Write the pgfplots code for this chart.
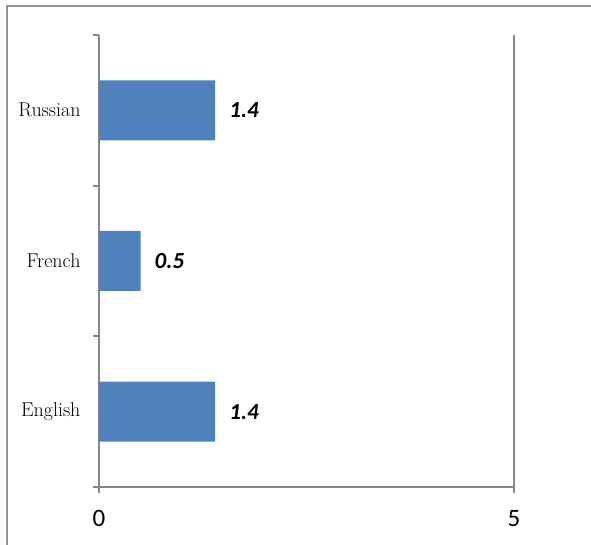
\documentclass[border=0pt]{standalone}
\usepackage{pgfplots}
\pgfplotsset{compat=1.18}
\usepackage{fontspec}
\newfontfamily\calibri{Carlito}
\definecolor{barblue}{HTML}{4F81BD}
\definecolor{axgray}{HTML}{868686}
\begin{document}
\begin{tikzpicture}
\useasboundingbox (0pt,0pt) rectangle (591pt,545pt);
\draw[axgray!90, line width=2pt] (7pt,0pt) -- (7pt,538.5pt) -- (591pt,538.5pt);
\begin{axis}[
  at={(99pt,58pt)}, anchor=south west,
  scale only axis, width=415pt, height=452pt,
  xbar, bar width=60pt,
  xmin=0, xmax=5, ymin=-0.5, ymax=2.5,
  axis x line*=bottom, axis y line*=left,
  axis line style={axgray, line width=2pt},
  xtick={0,5},
  xmajorgrids, grid style={axgray, line width=2pt},
  ytick={-0.5,0.5,1.5,2.5}, yticklabels={},
  extra y ticks={0,1,2}, extra y tick labels={English,French,Russian},
  extra y tick style={major tick length=0pt, tick style={draw=none},
    yticklabel style={font=\fontsize{20}{23}\selectfont, xshift=-15pt}},
  tick align=outside,
  major tick length=6.5pt,
  ytick style={draw=axgray, line width=2pt},
  xtick style={draw=axgray, line width=2pt},
  xticklabel style={font=\calibri\fontsize{25}{28}\selectfont, /pgf/number format/assume math mode=true, yshift=-13pt},
  nodes near coords,
  nodes near coords style={font=\calibri\bfseries\itshape\fontsize{23}{26}\selectfont, anchor=west, inner sep=0pt, xshift=14pt, /pgf/number format/fixed, /pgf/number format/precision=1, /pgf/number format/assume math mode=true},
]
\addplot[fill=barblue, draw=none] coordinates {(1.4,0) (0.5,1) (1.4,2)};
\end{axis}
\end{tikzpicture}
\end{document}
